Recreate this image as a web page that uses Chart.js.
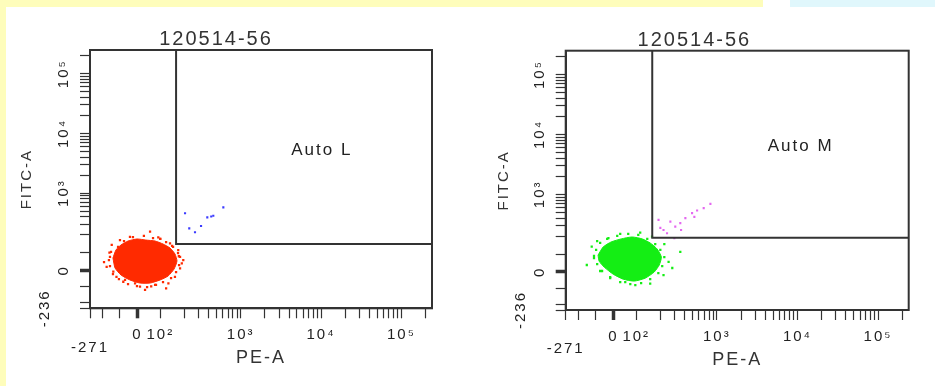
<!DOCTYPE html>
<html>
<head>
<meta charset="utf-8">
<script src="https://cdn.jsdelivr.net/npm/chart.js@4"></script>
<style>
    html, body { margin: 0; padding: 0; background: #fff; }
    body { width: 935px; height: 386px; position: relative; overflow: hidden; }
    .strip { position: absolute; }
    #c1 { position: absolute; left: 0; top: 0; }
    #c2 { position: absolute; left: 480px; top: 0; }
</style>
</head>
<body>
<div class="strip" style="left:0;top:0;width:763px;height:7px;background:#fefdbb"></div>
<div class="strip" style="left:0;top:0;width:6px;height:386px;background:#fefdbb"></div>
<div class="strip" style="left:790px;top:0;width:145px;height:7px;background:#e0f7fc"></div>
<canvas id="c1" width="452" height="386"></canvas>
<canvas id="c2" width="445" height="386"></canvas>
<script>
const $ = id => document.getElementById(id);

// 坐标刻度
const peTicks = [-271, -200, -100, 0, 100, 200, 300, 400, 500, 600, 700, 800, 900,
    1000, 2000, 3000, 4000, 5000, 6000, 7000, 8000, 9000,
    10000, 20000, 30000, 40000, 50000, 60000, 70000, 80000, 90000, 100000, 200000];
const peMajor = [-271, 0, 100, 1000, 10000, 100000];
const peMajorLabels = [['', '-271'], '0', '10²', '10³', '10⁴', '10⁵'];
const fitcTicks = [-236, -200, -100, 0, 100, 200, 300, 400, 500, 600, 700, 800, 900,
    1000, 2000, 3000, 4000, 5000, 6000, 7000, 8000, 9000,
    10000, 20000, 30000, 40000, 50000, 60000, 70000, 80000, 90000, 100000, 200000];
const fitcMajor = [-236, 0, 1000, 10000, 100000];
const fitcMajorLabels = [['-236', '', '', ''], '0', '10³', '10⁴', '10⁵'];

// 左图 Auto L
const redCore = [[-140, 70], [-123, 111], [-94, 135], [-54, 157], [-3, 170], [37, 163], [77, 157],
    [108, 140], [132, 120], [152, 93], [161, 53], [148, 7], [125, -35], [99, -60], [55, -79],
    [11, -79], [-43, -60], [-94, -29], [-128, 13], [-140, 70]];
const redSpeckles = [[55, 225], [91, 181], [-147, 135], [-176, 20], [-138, -8], [-81, -71], [11, -102],
    [118, -112], [176, 11], [193, 58], [167, 111], [132, 144], [-43, 185], [-100, 163], [-157, 77],
    [-14, -81], [77, -91], [152, -40], [185, 40], [126, -81], [-71, -60], [-117, 47], [33, -122],
    [-191, 47], [-160, 100], [140, 130], [170, 80], [-120, -40], [60, -100], [100, 170],
    [-111, 125], [-77, 157], [-26, 183], [28, 191], [68, 176], [99, 170], [118, 151], [144, 125],
    [166, 98], [176, 76], [171, 30], [157, -11], [136, -48], [108, -73], [81, -91], [42, -104],
    [-3, -98], [-54, -85], [-106, -54], [-140, -23], [-157, 24], [-163, 58], [-151, 103]];
const blueGated = [[203, 458], [229, 256], [270, 220], [321, 280], [384, 392], [456, 417], [430, 405], [608, 577]];
const gateL = [[157, 250000], [157, 140], [240000, 140]];
const labelL = ['Auto L', 10200, 5260];

// 右图 Auto M
const greenCore = [[-87, 95], [-58, 132], [-13, 160], [34, 180], [82, 194], [119, 180], [149, 154],
    [182, 122], [205, 84], [193, 39], [167, -1], [129, -39], [91, -57], [43, -45], [-1, -14],
    [-52, 27], [-81, 61], [-87, 95]];
const greenSpeckles = [[-151, 39], [-123, 134], [-92, 166], [-28, 185], [30, 218], [112, 229], [157, 197],
    [223, 148], [252, 57], [218, -20], [149, -72], [96, -82], [52, -63], [-18, -39], [-75, 5],
    [352, 109], [-110, 78], [280, 22],
    [-98, 118], [-75, 154], [-35, 180], [17, 202], [65, 218], [106, 210], [137, 180], [172, 148],
    [199, 118], [223, 84], [210, 33], [188, -7], [149, -45], [115, -70], [74, -76], [30, -63],
    [-18, -32], [-64, 5], [-92, 44], [-110, 90]];
const magentaGated = [[189, 374], [218, 254], [265, 350], [305, 289], [352, 330], [407, 400], [493, 485],
    [569, 536], [687, 588], [832, 694], [241, 224], [360, 254], [297, 185], [199, 275], [526, 420]];
const gateM = [[158, 250000], [158, 189], [240000, 189]];
const labelM = ['Auto M', 10970, 6270];

// 双指数坐标 (0~100 线性, 之后对数)
const biex = (v, lin, neg) => v >= 100 ? lin + Math.log10(v / 100) : v >= 0 ? lin * v / 100 : lin * neg * v / 100;
const biexInv = (d, lin, neg) => d >= lin ? 100 * Math.pow(10, d - lin) : d >= 0 ? d / lin * 100 : d / (lin * neg) * 100;

class BiexScale extends Chart.LinearScale {
    static id = 'biex';
    static defaults = {};
    determineDataLimits() {
        this.min = this.options.min;
        this.max = this.options.max;
    }
    buildTicks() {
        return this.options.tickValues.map(value => ({value}));
    }
    configure() {
        super.configure();
        const {lin, neg} = this.options;
        this._d0 = biex(this.min, lin, neg);
        this._dr = biex(this.max, lin, neg) - this._d0;
    }
    getPixelForValue(v) {
        const {lin, neg} = this.options;
        return this.getPixelForDecimal((biex(v, lin, neg) - this._d0) / this._dr);
    }
    getValueForPixel(p) {
        const {lin, neg} = this.options;
        return biexInv(this.getDecimalForPixel(p) * this._dr + this._d0, lin, neg);
    }
}
Chart.register(BiexScale);
Chart.defaults.font.family = '"Liberation Sans", Arial, sans-serif';

const framePlugin = {
    id: 'frame',
    beforeUpdate(chart) { chart.ctx.letterSpacing = '2px'; },
    beforeDraw(chart) { chart.ctx.letterSpacing = '2px'; },
    afterDatasetsDraw(chart, args, opts) {
        const {ctx, chartArea: a, scales: {x, y}} = chart;
        ctx.save();
        ctx.strokeStyle = '#333';
        ctx.lineWidth = 2;
        ctx.strokeRect(a.left, a.top, a.right - a.left, a.bottom - a.top);
        ctx.fillStyle = '#222';
        ctx.font = '17px "Liberation Sans", Arial, sans-serif';
        ctx.textAlign = 'center';
        ctx.textBaseline = 'middle';
        ctx.fillText(opts.label[0], x.getPixelForValue(opts.label[1]), y.getPixelForValue(opts.label[2]));
        ctx.restore();
    }
};

const toXY = arr => arr.map(([x, y]) => ({x, y}));
const dots = (arr, color, r) => ({
    data: toXY(arr), showLine: false, pointStyle: 'rect', pointRadius: r,
    backgroundColor: color, borderColor: color, borderWidth: 0
});
const blob = (arr, color) => ({
    data: toXY(arr), showLine: true, fill: 'shape', tension: 0.2, pointRadius: 0,
    backgroundColor: color, borderColor: color, borderWidth: 1
});
const gate = arr => ({
    data: toXY(arr), showLine: true, fill: false, pointRadius: 0,
    borderColor: '#333', borderWidth: 2
});

const tickWidth = ctx => ctx.tick && ctx.tick.value === 0 ? 3.5 : 1.2;

const makePlot = (id, datasets, label, lay) => new Chart($(id), {
    type: 'scatter',
    data: {datasets},
    options: {
        responsive: false,
        animation: false,
        events: [],
        layout: {padding: {right: lay.padRight}},
        plugins: {
            legend: {display: false},
            tooltip: {enabled: false},
            title: {
                display: true, text: '120514-56', color: '#333',
                font: {size: 20, weight: 'normal', lineHeight: 1},
                padding: {top: lay.titleTop, bottom: lay.titleBottom}
            },
            frame: {label}
        },
        scales: {
            x: {
                type: 'biex', min: -271, max: 240000, lin: 0.284, neg: 0.768, tickValues: peTicks,
                afterFit: s => { s.height = lay.xHeight; },
                border: {display: true, color: '#333', width: 2},
                grid: {drawOnChartArea: false, tickLength: 10, tickColor: '#333', tickWidth},
                ticks: {
                    autoSkip: false, minRotation: 0, maxRotation: 0, padding: 10, color: '#222',
                    font: {size: 15, lineHeight: 0.85},
                    callback: v => { const i = peMajor.indexOf(v); return i < 0 ? '' : peMajorLabels[i]; }
                },
                title: {display: true, text: 'PE-A', color: '#333', font: {size: 18}, padding: {bottom: lay.xTitlePad}}
            },
            y: {
                type: 'biex', min: -236, max: 250000, lin: 0.295, neg: 0.914, tickValues: fitcTicks,
                afterFit: s => { s.width = lay.yWidth; },
                border: {display: true, color: '#333', width: 2},
                grid: {drawOnChartArea: false, tickLength: 10, tickColor: '#333', tickWidth},
                ticks: {
                    autoSkip: false, minRotation: 90, maxRotation: 90, crossAlign: 'center', padding: -3, color: '#222',
                    font: {size: 15, lineHeight: 0.85},
                    callback: v => { const i = fitcMajor.indexOf(v); return i < 0 ? '' : fitcMajorLabels[i]; }
                },
                title: {display: true, text: 'FITC-A', color: '#333', font: {size: 15}, padding: {top: lay.yTitlePad}}
            }
        }
    },
    plugins: [framePlugin]
});

window.onload = () => {
    makePlot('c1', [
        gate(gateL),
        dots(blueGated, '#3b3bff', 1.5),
        dots(redSpeckles, '#ff2a00', 1.6),
        blob(redCore, '#ff2a00')
    ], labelL, {padRight: 20, titleTop: 29, titleBottom: 1, xHeight: 77.7, yWidth: 90, xTitlePad: 17, yTitlePad: 18});
    makePlot('c2', [
        gate(gateM),
        dots(magentaGated, '#e468f0', 1.5),
        dots(greenSpeckles, '#14ee14', 1.6),
        blob(greenCore, '#14ee14')
    ], labelM, {padRight: 16.3, titleTop: 30, titleBottom: 0.7, xHeight: 76, yWidth: 85.7, xTitlePad: 15, yTitlePad: 15});
};
</script>
</body>
</html>
